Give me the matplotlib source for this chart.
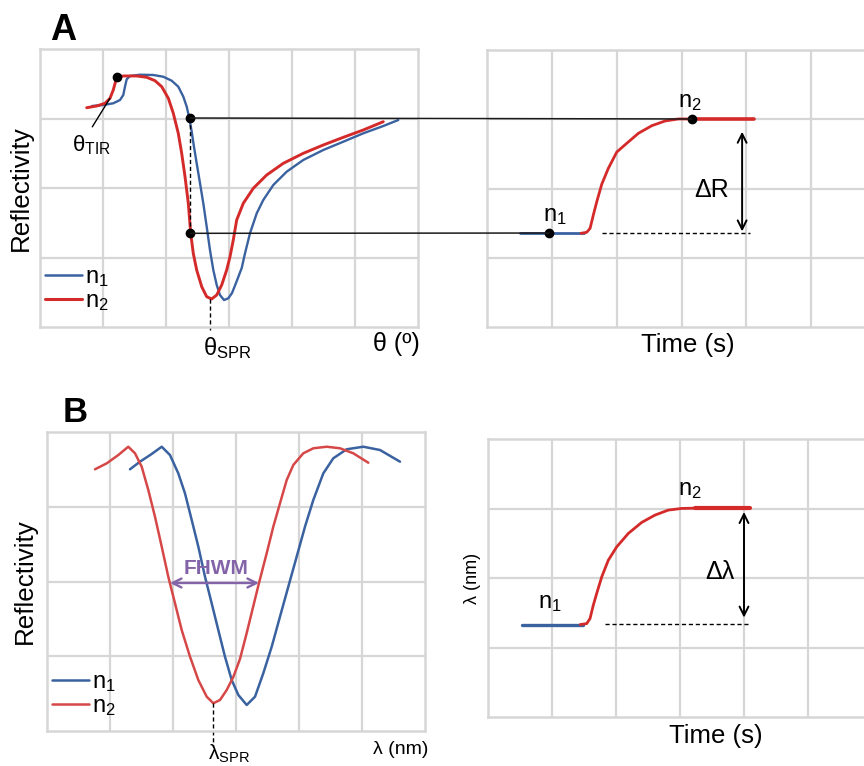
import matplotlib
matplotlib.use("Agg")
import matplotlib.pyplot as plt
from matplotlib.lines import Line2D
from matplotlib.patches import ConnectionPatch

plt.rcParams['font.family'] = ['Liberation Sans', 'DejaVu Sans']
plt.rcParams['mathtext.fontset'] = 'custom'
plt.rcParams['mathtext.rm'] = 'Liberation Sans'
plt.rcParams['mathtext.it'] = 'Liberation Sans'
plt.rcParams['mathtext.bf'] = 'Liberation Sans:bold'
plt.rcParams['lines.solid_joinstyle'] = 'round'
plt.rcParams['lines.solid_capstyle'] = 'round'

# ---------------- data (arbitrary units) ----------------
# Panel A, angular reflectivity curves (theta in grid units, reflectivity in grid units)
theta_n1 = [0.825, 1.005, 1.163, 1.270, 1.322, 1.349, 1.376, 1.429, 1.587, 1.798, 1.957,
            2.090, 2.195, 2.275, 2.329, 2.370, 2.408, 2.444, 2.487, 2.540, 2.592, 2.646,
            2.698, 2.751, 2.805, 2.857, 2.921, 2.989, 3.048, 3.111, 3.202, 3.254, 3.333,
            3.440, 3.544, 3.703, 3.916, 4.179, 4.497, 4.814, 5.132, 5.449, 5.687]
refl_n1 = [3.180, 3.194, 3.219, 3.266, 3.338, 3.458, 3.564, 3.612, 3.630, 3.626, 3.601,
           3.544, 3.458, 3.314, 3.170, 3.002, 2.810, 2.594, 2.355, 2.068, 1.780, 1.443,
           1.108, 0.820, 0.604, 0.460, 0.388, 0.413, 0.489, 0.633, 0.849, 1.060, 1.348,
           1.636, 1.827, 2.043, 2.235, 2.403, 2.547, 2.666, 2.787, 2.892, 2.978]
theta_n2 = [0.741, 0.900, 1.032, 1.111, 1.163, 1.206, 1.227, 1.322, 1.535, 1.694, 1.825,
            1.932, 2.037, 2.116, 2.195, 2.249, 2.302, 2.354, 2.392, 2.433, 2.487, 2.567,
            2.646, 2.725, 2.805, 2.884, 2.963, 3.016, 3.068, 3.122, 3.227, 3.386, 3.598,
            3.862, 4.179, 4.497, 4.814, 5.132, 5.449]
refl_n2 = [3.155, 3.180, 3.219, 3.291, 3.410, 3.554, 3.593, 3.612, 3.612, 3.593, 3.544,
           3.458, 3.291, 3.075, 2.787, 2.499, 2.163, 1.780, 1.348, 1.060, 0.820, 0.580,
           0.436, 0.403, 0.460, 0.604, 0.820, 1.012, 1.252, 1.540, 1.780, 1.996, 2.187,
           2.355, 2.499, 2.619, 2.729, 2.835, 2.954]
theta_tir = (1.227, 3.593)
theta_meas = 2.386
refl_meas_hi = 3.007
refl_meas_lo = 1.348
theta_spr = (2.70, 0.40)

# Panel A, reflectivity vs time
time_n1 = [0.51, 1.50]
refl_t_n1 = [1.353, 1.353]
time_rise = [1.45, 1.539, 1.590, 1.640, 1.693, 1.770, 1.872, 2.002, 2.156, 2.335, 2.542,
             2.747, 2.952, 3.159]
refl_rise = [1.353, 1.368, 1.425, 1.617, 1.809, 2.062, 2.292, 2.527, 2.653, 2.797, 2.907,
             2.975, 3.004, 3.004]
time_n2 = [3.159, 4.116]
refl_t_n2 = [3.004, 3.004]
time_dots = [0.957, 3.159]
refl_dots = [1.357, 3.004]

# Panel B, wavelength reflectivity curves
lam_n1 = [1.317, 1.476, 1.662, 1.821, 1.952, 2.084, 2.190, 2.297, 2.402, 2.508, 2.614,
          2.719, 2.825, 2.932, 3.037, 3.170, 3.302, 3.433, 3.567, 3.698, 3.830, 3.963,
          4.095, 4.227, 4.386, 4.544, 4.757, 5.021, 5.286, 5.603]
reflB_n1 = [3.501, 3.603, 3.706, 3.803, 3.692, 3.447, 3.180, 2.823, 2.466, 2.064, 1.708,
            1.351, 0.994, 0.682, 0.482, 0.348, 0.459, 0.772, 1.128, 1.529, 1.930, 2.332,
            2.733, 3.090, 3.447, 3.648, 3.769, 3.803, 3.759, 3.603]
lam_n2 = [0.762, 0.948, 1.132, 1.290, 1.397, 1.503, 1.608, 1.714, 1.821, 1.925, 2.032,
          2.138, 2.270, 2.402, 2.535, 2.640, 2.746, 2.852, 2.957, 3.063, 3.170, 3.275,
          3.365, 3.487, 3.592, 3.698, 3.805, 3.910, 4.068, 4.227, 4.440, 4.651, 4.862, 5.100]
reflB_n2 = [3.501, 3.581, 3.692, 3.803, 3.715, 3.536, 3.224, 2.867, 2.466, 2.064, 1.708,
            1.351, 0.994, 0.682, 0.459, 0.371, 0.415, 0.548, 0.722, 0.963, 1.311, 1.672,
            1.980, 2.377, 2.733, 3.046, 3.358, 3.559, 3.715, 3.782, 3.803, 3.782, 3.715, 3.589]
fwhm_x = [1.952, 3.365]
fwhm_y = 1.98
lam_spr = (2.64, 0.37)

# Panel B, wavelength vs time
timeB_n1 = [0.531, 1.484]
lam_t_n1 = [1.330, 1.330]
timeB_rise = [1.44, 1.542, 1.594, 1.645, 1.698, 1.777, 1.880, 2.011, 2.192, 2.402, 2.609,
              2.817, 3.027, 3.234]
lam_rise = [1.330, 1.344, 1.416, 1.608, 1.777, 2.016, 2.256, 2.448, 2.641, 2.800, 2.905,
            2.977, 3.001, 3.005]
timeB_n2 = [3.234, 4.094]
lam_t_n2 = [3.005, 3.005]

# ---------------- styling ----------------
BLUE = '#3a62a0'
RED = '#d42a2a'
RED_B = '#d64848'
PURPLE = '#8464a8'
GRID = '#d6d6d6'
W, H = 864, 766

fig = plt.figure(figsize=(W / 100, H / 100), dpi=100)


def px_axes(x0, y0, w, h):
    return fig.add_axes([x0 / W, 1 - (y0 + h) / H, w / W, h / H])


def grid_style(ax, nx, ny):
    ax.set_xlim(0, nx)
    ax.set_ylim(0, ny)
    ax.set_xticks(range(1, nx))
    ax.set_yticks(range(1, ny))
    ax.grid(True, color=GRID, lw=1.6)
    ax.tick_params(length=0, labelbottom=False, labelleft=False)
    for s in ax.spines.values():
        s.set_color(GRID)
        s.set_linewidth(1.8)
    ax.set_axisbelow(True)


DASH = (0, (3, 2))

# ---- Panel A left ----
axA = px_axes(40, 49, 378, 278)
grid_style(axA, 6, 4)
axA.plot(theta_n1, refl_n1, color=BLUE, lw=1.7)
axA.plot(theta_n2, refl_n2, color=RED, lw=2.1)
axA.plot(*theta_tir, 'o', color='black', ms=6, zorder=5)
axA.plot([theta_meas, theta_meas], [refl_meas_lo, refl_meas_hi], 'o', color='black', ms=6, zorder=5)
axA.plot([theta_meas, theta_meas], [refl_meas_lo, refl_meas_hi], color='black', lw=1.0, ls=DASH)
axA.plot([theta_spr[0], theta_spr[0]], [theta_spr[1], -0.05], color='black', lw=1.0,
         ls=DASH, clip_on=False)
axA.annotate('', xy=(1.11, 3.29), xytext=(0.83, 2.88),
             arrowprops=dict(arrowstyle='-', color='black', lw=1.0, shrinkA=0, shrinkB=0))
axA.text(0.82, 2.62, 'θ$_{\\mathrm{TIR}}$', fontsize=16, ha='center', va='center')
axA.text(2.587, -0.30, 'θ$_{\\mathrm{SPR}}$', fontsize=17, ha='left', va='center')
axA.text(6.03, -0.25, 'θ (º)', fontsize=18, ha='right', va='center')
axA.set_ylabel('Reflectivity', fontsize=18.7, labelpad=5)
leg_handles = [Line2D([], [], color=BLUE, lw=1.8), Line2D([], [], color=RED, lw=2.2)]
axA.legend(leg_handles, ['n$_1$', 'n$_2$'], loc='lower left', bbox_to_anchor=(-0.005, 0.025),
           frameon=False, fontsize=17, handlelength=1.55, handletextpad=0.15,
           labelspacing=0.05, borderaxespad=0.2, borderpad=0.1)
fig.text(50 / W, 1 - 31 / H, 'A', fontsize=26, fontweight='bold', ha='left', va='center')

# ---- Panel A right ----
axAr = px_axes(487, 50, 389, 277)
grid_style(axAr, 6, 4)
axAr.plot(time_n1, refl_t_n1, color=BLUE, lw=2.0)
axAr.plot(time_rise, refl_rise, color=RED, lw=2.0)
axAr.plot(time_n2, refl_t_n2, color=RED, lw=2.6)
axAr.plot(time_dots, refl_dots, 'o', color='black', ms=6, zorder=5)
axAr.plot([1.775, 4.06], [1.362, 1.362], color='black', lw=1.0, ls=DASH)
axAr.annotate('', xy=(3.935, 2.82), xytext=(3.935, 1.38),
              arrowprops=dict(arrowstyle='<->', color='black', lw=1.4, mutation_scale=16,
                              shrinkA=0, shrinkB=0))
axAr.text(3.472, 1.978, 'ΔR', fontsize=18, ha='center', va='center')
axAr.text(1.049, 1.60, 'n$_1$', fontsize=17, ha='center', va='center')
axAr.text(3.133, 3.25, 'n$_2$', fontsize=17, ha='center', va='center')
axAr.text(3.10, -0.26, 'Time (s)', fontsize=18.5, ha='center', va='center')

for yA, (xB, yB) in [(refl_meas_hi, (time_dots[1], refl_dots[1])),
                     (refl_meas_lo, (time_dots[0], refl_dots[0]))]:
    con = ConnectionPatch(xyA=(theta_meas, yA), coordsA=axA.transData,
                          xyB=(xB, yB), coordsB=axAr.transData,
                          color='#1a1a1a', lw=1.1, zorder=4)
    fig.add_artist(con)

# ---- Panel B left ----
axB = px_axes(47, 432, 378, 299)
grid_style(axB, 6, 4)
axB.plot(lam_n1, reflB_n1, color=BLUE, lw=1.8)
axB.plot(lam_n2, reflB_n2, color=RED_B, lw=1.8)
axB.annotate('', xy=(fwhm_x[0], fwhm_y), xytext=(fwhm_x[1], fwhm_y),
             arrowprops=dict(arrowstyle='<->', color=PURPLE, lw=1.7, mutation_scale=16,
                             shrinkA=0, shrinkB=0))
axB.text(2.68, 2.17, 'FHWM', fontsize=15, fontweight='bold', color=PURPLE,
         ha='center', va='center')
axB.plot([lam_spr[0], lam_spr[0]], [lam_spr[1], -0.22], color='black', lw=1.0,
         ls=DASH, clip_on=False)
axB.text(2.56, -0.15, 'λ$_{\\mathrm{SPR}}$', fontsize=15, ha='left', va='top')
axB.text(6.05, -0.25, 'λ (nm)', fontsize=14, ha='right', va='center')
axB.set_ylabel('Reflectivity', fontsize=18.7, labelpad=7)
leg_handles_b = [Line2D([], [], color=BLUE, lw=1.8), Line2D([], [], color=RED_B, lw=1.8)]
axB.legend(leg_handles_b, ['n$_1$', 'n$_2$'], loc='lower left', bbox_to_anchor=(-0.005, 0.02),
           frameon=False, fontsize=17, handlelength=1.55, handletextpad=0.15,
           labelspacing=0.05, borderaxespad=0.2, borderpad=0.1)
fig.text(63 / W, 1 - 412 / H, 'B', fontsize=25, fontweight='bold', ha='left', va='center')

# ---- Panel B right ----
axBr = px_axes(488, 439, 384, 278)
grid_style(axBr, 6, 4)
axBr.plot(timeB_n1, lam_t_n1, color=BLUE, lw=2.4)
axBr.plot(timeB_rise, lam_rise, color=RED, lw=2.0)
axBr.plot(timeB_n2, lam_t_n2, color=RED, lw=3.0)
axBr.plot([1.828, 4.06], [1.334, 1.334], color='black', lw=1.0, ls=DASH)
axBr.annotate('', xy=(4.0, 2.95), xytext=(4.0, 1.43),
              arrowprops=dict(arrowstyle='<->', color='black', lw=1.4, mutation_scale=16,
                              shrinkA=0, shrinkB=0))
axBr.text(3.625, 2.084, 'Δλ', fontsize=18, ha='center', va='center')
axBr.text(0.969, 1.64, 'n$_1$', fontsize=17, ha='center', va='center')
axBr.text(3.156, 3.27, 'n$_2$', fontsize=17, ha='center', va='center')
axBr.text(3.5625, -0.28, 'Time (s)', fontsize=18.5, ha='center', va='center')
axBr.set_ylabel('λ (nm)', fontsize=13, labelpad=5)

fig.savefig('out.png', dpi=100)
